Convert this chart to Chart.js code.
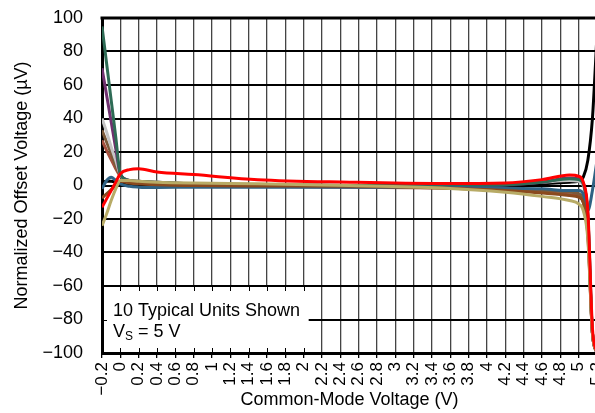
<!DOCTYPE html>
<html>
<head>
<meta charset="utf-8">
<title>Offset Voltage vs Common-Mode Voltage</title>
<script src="https://cdn.jsdelivr.net/npm/chart.js@4.4.1/dist/chart.umd.min.js"></script>
<style>
  html, body { margin: 0; padding: 0; background: #fff; overflow: hidden; }
  #chart { display: block; }
</style>
</head>
<body>
<canvas id="chart" width="597" height="413"></canvas>
<script>
const FONT = '"Liberation Sans", Arial, sans-serif';

// common-mode voltage (V), shared by all units
const cmVoltage = [-0.2, -0.15, -0.1, -0.05, 0, 0.1, 0.2, 0.4, 0.8, 1.5, 2.5, 3.5, 4.2, 4.6, 4.9, 5.0, 5.05, 5.1, 5.15, 5.2];

// normalized offset voltage (uV), one list per unit
const unitRed      = [-13, -8, -3, 2, 7, 9.5, 10, 8, 6.5, 3.5, 2, 1.2, 1.5, 3.5, 6.3, 5.5, 2, -15, -85, -100];
const unitKhaki    = [-24, -17, -9, -2, 3, 3, 2.5, 2, 1.5, 1, 0, -1.5, -4, -6.5, -9, -11, -15, -32, -88, -100];
const unitOchre    = [-7.5, -5, -2.5, 0, 2.5, 1.5, 1, 0.5, 0, -0.3, -0.5, -1.5, -3, -4.5, -6, -7, -10, -28, -88, -100];
const unitBlue     = [-2, 3, 5, 3, 1, -0.5, -1, -1.2, -1, -1, -1, -1, -1.5, -2, -3, -3, -5, -15, -3, 15];
const unitGreen    = [95, 73, 51, 29, 7, 3, 2.5, 2, 1, 0.5, 0, 0, 0.5, 2, 4, 3.5, 1, -18, -88, -100];
const unitPurple   = [70, 54, 38, 22, 7, 3, 2.5, 2, 1, 0.5, 0, 0, 0.5, 2, 4.5, 4, 1.5, -18, -88, -100];
const unitGray     = [40, 32, 23, 15, 6.5, 3, 2.5, 2, 1, 0.5, 0, 0.3, 1, 2, 3, 2.5, 0, -20, -88, -100];
const unitBrown    = [33, 26, 19, 12, 6, 3, 2, 1.5, 0.5, 0, -0.5, -1, -2, -3, -4, -5, -8, -26, -88, -100];
const unitRedBrown = [27, 21, 15.5, 10, 5.5, 2.5, 1.5, 1, 0, -0.5, -1, -1.5, -2.5, -4, -5.5, -6.5, -10, -30, -88, -100];
const unitBlack    = [2, 2.5, 2.5, 2, 1.5, 1, 0.5, 0, 0, 0, 0, 0, 0.5, 1, 2, 2.5, 5, 15, 40, 90];

const xTicks = [-0.2, 0, 0.2, 0.4, 0.6, 0.8, 1, 1.2, 1.4, 1.6, 1.8, 2, 2.2, 2.4, 2.6, 2.8,
                3, 3.2, 3.4, 3.6, 3.8, 4, 4.2, 4.4, 4.6, 4.8, 5, 5.2];
const yTicks = [-100, -80, -60, -40, -20, 0, 20, 40, 60, 80, 100];

const noteLines = ['10 Typical Units Shown', 'V', 'S', ' = 5 V'];

const units = [
  [unitRed, '#ff0000'],
  [unitKhaki, '#b8ab66'],
  [unitOchre, '#8a4a1e'],
  [unitBlue, '#2f6283'],
  [unitGreen, '#2e6b55'],
  [unitPurple, '#70306f'],
  [unitGray, '#c4c4c4'],
  [unitBrown, '#7c5a3a'],
  [unitRedBrown, '#a5503e'],
  [unitBlack, '#000000']
];

const datasets = units.map(([vals, color]) => ({
  data: cmVoltage.map((v, i) => ({ x: v, y: vals[i] })),
  borderColor: color,
  borderWidth: 3,
  pointRadius: 0,
  fill: false,
  cubicInterpolationMode: 'monotone'
}));

const minus = s => String(s).replace('-', '\u2212');

const noteBox = {
  id: 'noteBox',
  beforeDatasetsDraw(chart) {
    const { ctx, chartArea: a, scales: { x, y } } = chart;
    const top = y.getPixelForValue(-60);
    const right = x.getPixelForValue(2) + 5;
    ctx.save();
    ctx.fillStyle = '#fff';
    ctx.fillRect(a.left + 2, top + 1, right - a.left - 2, a.bottom - top - 2);

    ctx.strokeStyle = '#000';
    ctx.lineWidth = 1;
    ctx.beginPath();
    xTicks.forEach(v => {
      if (v > -0.2 && v <= 2) {
        const px = Math.round(x.getPixelForValue(v)) + 0.5;
        ctx.moveTo(px, top); ctx.lineTo(px, top + 5);
        ctx.moveTo(px, a.bottom - 5); ctx.lineTo(px, a.bottom);
      }
    });
    const py = Math.round(y.getPixelForValue(-80)) + 0.5;
    ctx.moveTo(a.left, py); ctx.lineTo(a.left + 5, py);
    ctx.stroke();

    ctx.fillStyle = '#000';
    ctx.textBaseline = 'middle';
    ctx.textAlign = 'left';
    ctx.font = '18px ' + FONT;
    const tx = a.left + 11;
    ctx.fillText(noteLines[0], tx, top + 25);
    ctx.fillText(noteLines[1], tx, top + 46);
    let w = ctx.measureText(noteLines[1]).width;
    ctx.font = '12px ' + FONT;
    ctx.fillText(noteLines[2], tx + w, top + 51);
    w += ctx.measureText(noteLines[2]).width;
    ctx.font = '18px ' + FONT;
    ctx.fillText(noteLines[3], tx + w, top + 46);
    ctx.restore();
  },
  afterDraw(chart) {
    const { ctx, chartArea: a } = chart;
    ctx.save();
    ctx.strokeStyle = '#000';
    ctx.lineWidth = 3;
    ctx.beginPath();
    ctx.moveTo(a.left - 1.5, a.top);
    ctx.lineTo(a.right, a.top);
    ctx.stroke();
    ctx.restore();
  }
};

new Chart(document.getElementById('chart'), {
  type: 'line',
  data: { datasets },
  plugins: [noteBox],
  options: {
    responsive: false,
    animation: false,
    layout: { padding: { top: 18, left: 0, right: 0, bottom: 0 } },
    plugins: { legend: { display: false }, tooltip: { enabled: false } },
    scales: {
      x: {
        type: 'linear',
        min: -0.2,
        max: 5.2,
        afterBuildTicks: s => { s.ticks = xTicks.map(v => ({ value: v })); },
        afterFit: s => { s.height = 60; s.paddingLeft = 0; s.paddingRight = 0; },
        ticks: {
          autoSkip: false,
          minRotation: 90,
          maxRotation: 90,
          padding: 4,
          color: '#000',
          font: { family: FONT, size: 17 },
          callback: v => minus(Math.round(v * 10) / 10)
        },
        grid: { color: '#444', lineWidth: 1.3, tickLength: 5, tickColor: '#000' },
        border: { color: '#000', width: 3 },
        title: {
          display: true,
          text: 'Common-Mode Voltage (V)',
          color: '#000',
          font: { family: FONT, size: 18 },
          padding: { top: 0, bottom: 2 }
        }
      },
      y: {
        min: -100,
        max: 100,
        afterBuildTicks: s => { s.ticks = yTicks.map(v => ({ value: v })); },
        afterFit: s => { s.width = 102; s.paddingTop = 0; s.paddingBottom = 0; },
        ticks: {
          padding: 19,
          color: '#000',
          font: { family: FONT, size: 18 },
          callback: v => minus(v)
        },
        grid: { color: '#000', lineWidth: 2, drawTicks: false },
        border: { color: '#000', width: 3 },
        title: {
          display: true,
          text: 'Normalized Offset Voltage (\u00b5V)',
          color: '#000',
          font: { family: FONT, size: 18 },
          padding: { top: 11, bottom: 0 }
        }
      }
    }
  }
});
</script>
</body>
</html>
